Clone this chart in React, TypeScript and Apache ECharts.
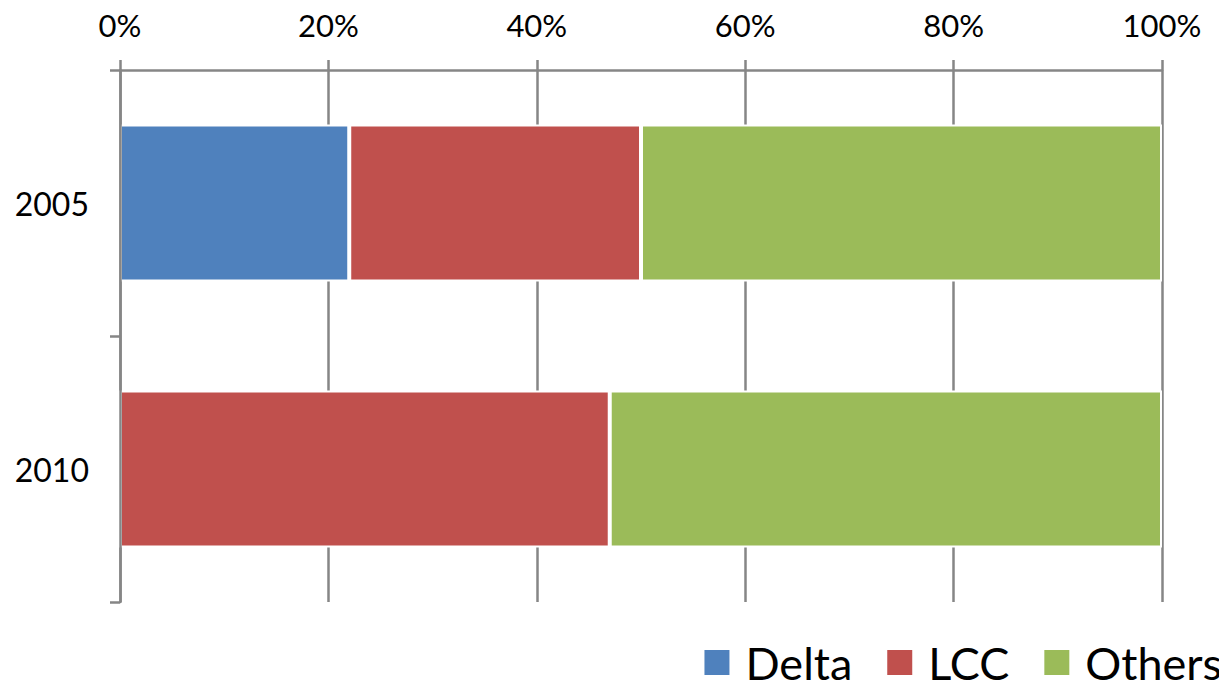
import React, { useEffect, useRef } from "react";
import * as echarts from "echarts";

const years = ["2005", "2010"];
const deltaShare = [22, 0];
const lccShare = [28, 47];
const othersShare = [50, 53];
const percentTicks = [0, 20, 40, 60, 80, 100];

const AXIS_GREY = "#868686";
const FONT = "Lato, 'Open Sans', sans-serif";

export default function App() {
  const ref = useRef<HTMLDivElement>(null);

  useEffect(() => {
    if (!ref.current) return;
    const chart = echarts.init(ref.current, undefined, { renderer: "svg" });
    const barStyle = (color: string) => ({
      color,
      borderColor: "#ffffff",
      borderWidth: 2,
    });
    chart.setOption({
      animation: false,
      backgroundColor: "#ffffff",
      textStyle: { fontFamily: FONT },
      grid: { left: 120, right: 65, top: 70, bottom: 86, containLabel: false },
      legend: {
        right: 5,
        bottom: 3,
        padding: 0,
        icon: "rect",
        itemWidth: 27,
        itemHeight: 27,
        itemGap: 33,
        textStyle: {
          fontSize: 45,
          lineHeight: 40,
          color: "#000",
          fontFamily: FONT,
          padding: [0, 0, 0, 10],
        },
        data: ["Delta", "LCC", "Others"],
      },
      xAxis: {
        type: "value",
        position: "top",
        min: 0,
        max: 100,
        interval: 20,
        axisLine: { show: true, lineStyle: { color: AXIS_GREY, width: 2.5 } },
        axisTick: { show: true, length: 10, lineStyle: { color: AXIS_GREY, width: 2.5 } },
        splitLine: { show: true, lineStyle: { color: AXIS_GREY, width: 2.5 } },
        axisLabel: {
          fontSize: 31,
          color: "#000",
          fontFamily: FONT,
          margin: 30,
          formatter: (v: number) => (percentTicks.includes(v) ? `${v}%` : ""),
        },
      },
      yAxis: {
        type: "category",
        inverse: true,
        data: years,
        z: 3,
        axisLine: { show: true, lineStyle: { color: AXIS_GREY, width: 2.5 } },
        axisTick: { show: true, length: 10, lineStyle: { color: AXIS_GREY, width: 2.5 } },
        axisLabel: { fontSize: 32, color: "#000", fontFamily: FONT, margin: 31 },
      },
      series: [
        {
          name: "Delta",
          type: "bar",
          stack: "share",
          barWidth: "59%",
          data: deltaShare,
          itemStyle: barStyle("#4F81BD"),
        },
        {
          name: "LCC",
          type: "bar",
          stack: "share",
          data: lccShare,
          itemStyle: barStyle("#C0504D"),
        },
        {
          name: "Others",
          type: "bar",
          stack: "share",
          data: othersShare,
          itemStyle: barStyle("#9BBB59"),
        },
      ],
    });
    return () => chart.dispose();
  }, []);

  // Outer box cancels the body margin so the chart fills the window exactly.
  return (
    <div style={{ margin: -8, height: 696, width: 1243 }}>
      <div ref={ref} style={{ width: 1227, height: 688 }} />
    </div>
  );
}
